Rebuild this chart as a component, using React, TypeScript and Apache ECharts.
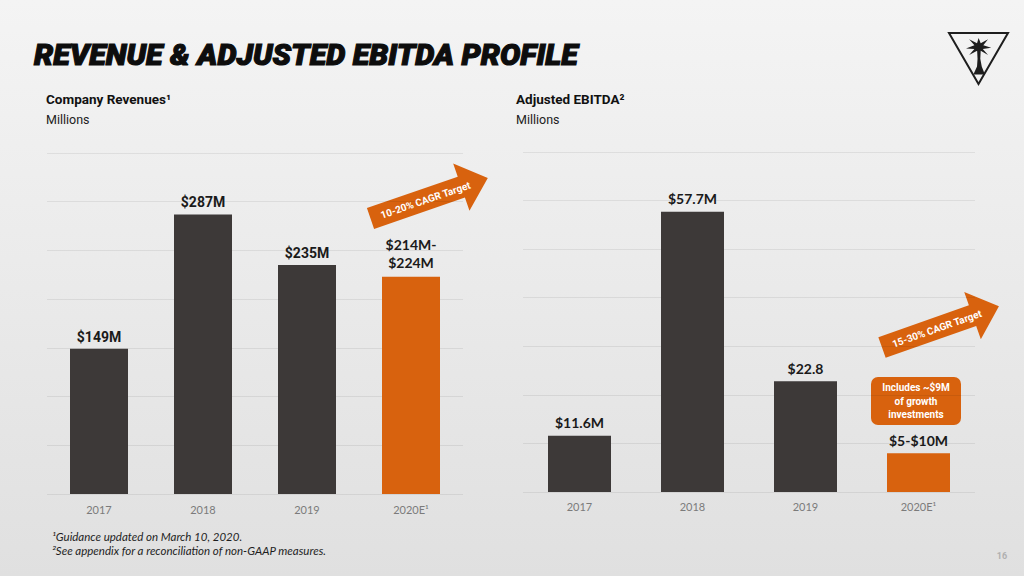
import React, { useEffect, useRef } from "react";
import * as echarts from "echarts";

// ---------- data ----------
const TITLE = "REVENUE & ADJUSTED EBITDA PROFILE";
const categories = ["2017", "2018", "2019", "2020E\u00B9"];
const revenueValues = [149, 287, 235, 223];
const revenueLabels = ["$149M", "$287M", "$235M", "$214M-\n$224M"];
const ebitdaValues = [11.6, 57.7, 22.8, 8];
const ebitdaLabels = ["$11.6M", "$57.7M", "$22.8", "$5-$10M"];
const revenueAxis = { min: 0, max: 350, interval: 50 };
const ebitdaAxis = { min: 0, max: 70, interval: 10 };
const leftTitle = "Company Revenues\u00B9";
const rightTitle = "Adjusted EBITDA\u00B2";
const unitText = "Millions";
const leftArrowText = "10-20% CAGR Target";
const rightArrowText = "15-30% CAGR Target";
const calloutText = "Includes ~$9M\nof growth\ninvestments";
const footnotes = [
  "\u00B9Guidance updated on March 10, 2020.",
  "\u00B2See appendix for a reconciliation of non-GAAP measures.",
];
const pageNumber = "16";

// ---------- styles ----------
const DARK = "#3d3938";
const ORANGE = "#d8620e";
const GRID = "rgba(0,0,0,0.07)";

const PALM_PATH =
  "M0 8 L8 5.5 L3 1 L10.5 4 L12 0 L14 4 L21 1 L16.5 5.5 L24 7.5 L16 8.5 L21 13 L14 9.8 L13.6 16 L15 22 L18 28 L7 28 L10.5 22 L11 16 L10.6 9.8 L3 13 L8 8.5 Z";
let palmRegistered = false;
function registerPalm() {
  if (palmRegistered) return;
  echarts.graphic.registerShape("palm", echarts.graphic.extendPath(PALM_PATH, {}));
  palmRegistered = true;
}

function arrow(x: number, y: number, deg: number, text: string) {
  const body = 11;
  const head = 25;
  const len = 124;
  const headLen = 28;
  return {
    type: "group",
    x,
    y,
    rotation: (deg * Math.PI) / 180,
    children: [
      {
        type: "polygon",
        shape: {
          points: [
            [0, -body],
            [len - headLen, -body],
            [len - headLen, -head],
            [len, 0],
            [len - headLen, head],
            [len - headLen, body],
            [0, body],
          ],
        },
        style: { fill: ORANGE },
      },
      {
        type: "text",
        x: 58,
        y: 0.5,
        style: {
          text,
          fill: "#ffffff",
          fontSize: 10,
          fontWeight: "bold",
          fontFamily: "Roboto, sans-serif",
          align: "center",
          verticalAlign: "middle",
        },
      },
    ],
  };
}

export default function App() {
  const ref = useRef<HTMLDivElement>(null);

  useEffect(() => {
    if (!ref.current) return;
    registerPalm();

    // scale the title to its width in the reference
    let titleScale = 1;
    try {
      const c = document.createElement("canvas").getContext("2d");
      if (c) {
        c.font = "italic 900 30px Roboto";
        const w = c.measureText(TITLE).width;
        if (w > 0) titleScale = 544 / w;
      }
    } catch (e) {}

    const chart = echarts.init(ref.current, null, { renderer: "svg" });
    const last = categories.length - 1;

    const labelFontLeft = (i: number) =>
      i === last
        ? { fontFamily: "Lato, sans-serif", fontWeight: "bold", fontSize: 14, lineHeight: 18 }
        : { fontFamily: "Roboto, sans-serif", fontWeight: "bold", fontSize: 14 };

    chart.setOption({
      animation: false,
      backgroundColor: {
        type: "linear",
        x: 0,
        y: 0,
        x2: 0,
        y2: 1,
        colorStops: [
          { offset: 0, color: "#f4f4f4" },
          { offset: 1, color: "#e0e0e0" },
        ],
      },
      grid: [
        { left: 47, width: 416, top: 153, bottom: 82 },
        { left: 523, width: 452, top: 152, bottom: 84 },
      ],
      xAxis: [0, 1].map((g) => ({
        type: "category",
        gridIndex: g,
        data: categories,
        axisLine: { show: false },
        axisTick: { show: false },
        axisLabel: {
          color: "#7b7b7b",
          fontSize: 11,
          fontFamily: "Lato, sans-serif",
          margin: g === 0 ? 10 : 9,
        },
      })),
      yAxis: [
        { ...revenueAxis, gridIndex: 0 },
        { ...ebitdaAxis, gridIndex: 1 },
      ].map((a) => ({
        type: "value",
        ...a,
        axisLabel: { show: false },
        axisLine: { show: false },
        axisTick: { show: false },
        splitLine: { lineStyle: { color: GRID, width: 1 } },
      })),
      series: [
        {
          type: "bar",
          xAxisIndex: 0,
          yAxisIndex: 0,
          barWidth: 58,
          data: revenueValues.map((v, i) => ({
            value: v,
            itemStyle: { color: i === last ? ORANGE : DARK },
            label: {
              show: true,
              position: "top",
              distance: 5,
              color: "#1a1a1a",
              formatter: () => revenueLabels[i],
              ...labelFontLeft(i),
            },
          })),
        },
        {
          type: "bar",
          xAxisIndex: 1,
          yAxisIndex: 1,
          barWidth: 63,
          data: ebitdaValues.map((v, i) => ({
            value: v,
            itemStyle: { color: i === last ? ORANGE : DARK },
            label: {
              show: true,
              position: "top",
              distance: 6,
              color: "#1a1a1a",
              fontFamily: "Lato, sans-serif",
              fontWeight: "bold",
              fontSize: 14,
              formatter: () => ebitdaLabels[i],
            },
          })),
        },
      ],
      graphic: [
        {
          type: "text",
          x: 34,
          y: 55,
          scaleX: titleScale,
          style: {
            text: TITLE,
            fill: "#0d0d0d",
            stroke: "#0d0d0d",
            lineWidth: 1.2,
            fontSize: 30,
            fontWeight: 900,
            fontStyle: "italic",
            fontFamily: "Roboto, sans-serif",
            align: "left",
            verticalAlign: "middle",
          },
        },
        {
          type: "text",
          x: 46,
          y: 99,
          style: {
            text: leftTitle,
            fill: "#111",
            fontSize: 13.5,
            fontWeight: "bold",
            fontFamily: "Roboto, sans-serif",
            verticalAlign: "middle",
          },
        },
        {
          type: "text",
          x: 46,
          y: 119,
          style: {
            text: unitText,
            fill: "#222",
            fontSize: 12.5,
            fontFamily: "Roboto, sans-serif",
            verticalAlign: "middle",
          },
        },
        {
          type: "text",
          x: 516,
          y: 99,
          style: {
            text: rightTitle,
            fill: "#111",
            fontSize: 13.5,
            fontWeight: "bold",
            fontFamily: "Roboto, sans-serif",
            verticalAlign: "middle",
          },
        },
        {
          type: "text",
          x: 516,
          y: 119,
          style: {
            text: unitText,
            fill: "#222",
            fontSize: 12.5,
            fontFamily: "Roboto, sans-serif",
            verticalAlign: "middle",
          },
        },
        arrow(370.5, 218.5, 19, leftArrowText),
        arrow(882, 347.5, 19.4, rightArrowText),
        {
          type: "rect",
          shape: { x: 871, y: 377, width: 90, height: 48, r: 7 },
          style: { fill: ORANGE },
        },
        {
          type: "text",
          x: 916,
          y: 401,
          style: {
            text: calloutText,
            fill: "#ffffff",
            fontSize: 10,
            fontWeight: "bold",
            fontFamily: "Roboto, sans-serif",
            lineHeight: 13.5,
            align: "center",
            verticalAlign: "middle",
          },
        },
        ...footnotes.map((t, i) => ({
          type: "text",
          x: 52,
          y: 536 + i * 14,
          style: {
            text: t,
            fill: "#1e1e1e",
            fontSize: 11.5,
            fontStyle: "italic",
            fontFamily: "Lato, sans-serif",
            verticalAlign: "middle",
          },
        })),
        {
          type: "text",
          x: 1002,
          y: 556,
          style: {
            text: pageNumber,
            fill: "#b0b0b0",
            fontSize: 9,
            fontWeight: "bold",
            fontFamily: "Roboto, sans-serif",
            align: "center",
            verticalAlign: "middle",
          },
        },
        {
          type: "polygon",
          shape: { points: [[949, 33], [1008, 33], [978.5, 84]] },
          style: { fill: "none", stroke: "#1e1e1e", lineWidth: 2 },
        },
        {
          type: "palm",
          x: 966,
          y: 38,
          scaleX: 1.05,
          scaleY: 1.3,
          style: { fill: "#1e1e1e" },
        },
      ],
    });

    return () => chart.dispose();
  }, []);

  return (
    <div
      ref={ref}
      style={{ position: "fixed", left: 0, top: 0, width: 1024, height: 576 }}
    />
  );
}
